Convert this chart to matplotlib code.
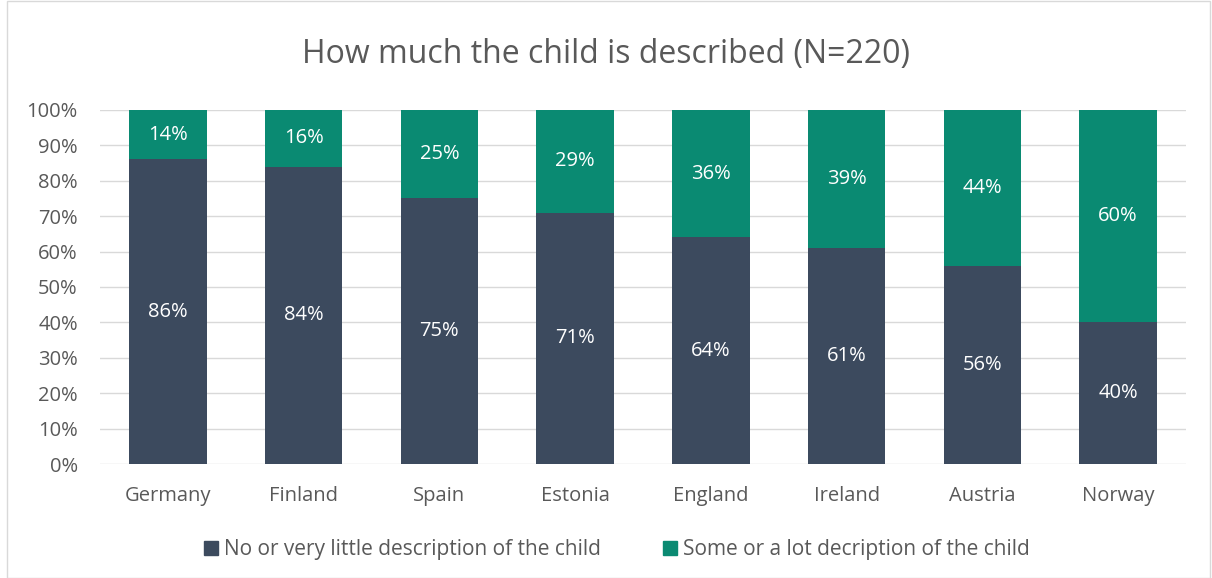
import matplotlib.pyplot as plt
from matplotlib.patches import Rectangle, Patch

countries = ["Germany", "Finland", "Spain", "Estonia", "England", "Ireland", "Austria", "Norway"]
little = [86, 84, 75, 71, 64, 61, 56, 40]
some = [14, 16, 25, 29, 36, 39, 44, 60]
series_names = ["No or very little description of the child", "Some or a lot decription of the child"]

dark = "#3C4A5E"
green = "#0A8A72"
text_grey = "#595959"

plt.rcParams["font.family"] = ["Open Sans", "DejaVu Sans"]

fig = plt.figure(figsize=(12.12, 5.78), dpi=100)
ax = fig.add_axes([0.0825, 0.197, 0.896, 0.613])

x = range(len(countries))
b1 = ax.bar(x, little, width=0.57, color=dark, zorder=3)
b2 = ax.bar(x, some, width=0.57, bottom=little, color=green, zorder=3)

for bars, vals, bottoms in ((b1, little, [0] * len(little)), (b2, some, little)):
    for rect, v, b in zip(bars, vals, bottoms):
        ax.text(rect.get_x() + rect.get_width() / 2, b + v / 2, f"{v}%",
                ha="center", va="center", color="white", fontsize=14.5, zorder=4)

ax.set_xlim(-0.5, len(countries) - 0.5)
ax.set_ylim(0, 100)
ax.set_yticks(range(0, 101, 10))
ax.set_yticklabels([f"{t}%" for t in range(0, 101, 10)])
ax.set_xticks(list(x))
ax.set_xticklabels(countries)
ax.tick_params(axis="both", length=0, labelsize=14.5, labelcolor=text_grey)
ax.tick_params(axis="x", pad=16)
ax.tick_params(axis="y", pad=16)
ax.grid(axis="y", color="#D9D9D9", linewidth=1, zorder=0)
for s in ax.spines.values():
    s.set_visible(False)

fig.text(0.5, 0.905, "How much the child is described (N=220)", ha="center", va="center",
         fontsize=23, color=text_grey)

handles = [Patch(color=dark), Patch(color=green)]
fig.legend(handles, series_names, loc="center", bbox_to_anchor=(0.509, 0.049), ncol=2,
           frameon=False, fontsize=15, labelcolor=text_grey, handlelength=0.65,
           handleheight=0.65, handletextpad=0.3, columnspacing=3.0)

fig.patches.append(Rectangle((0.006, 0.0), 0.992, 0.998, transform=fig.transFigure,
                             fill=False, edgecolor="#D9D9D9", linewidth=1))

fig.savefig("out.png", dpi=100)
